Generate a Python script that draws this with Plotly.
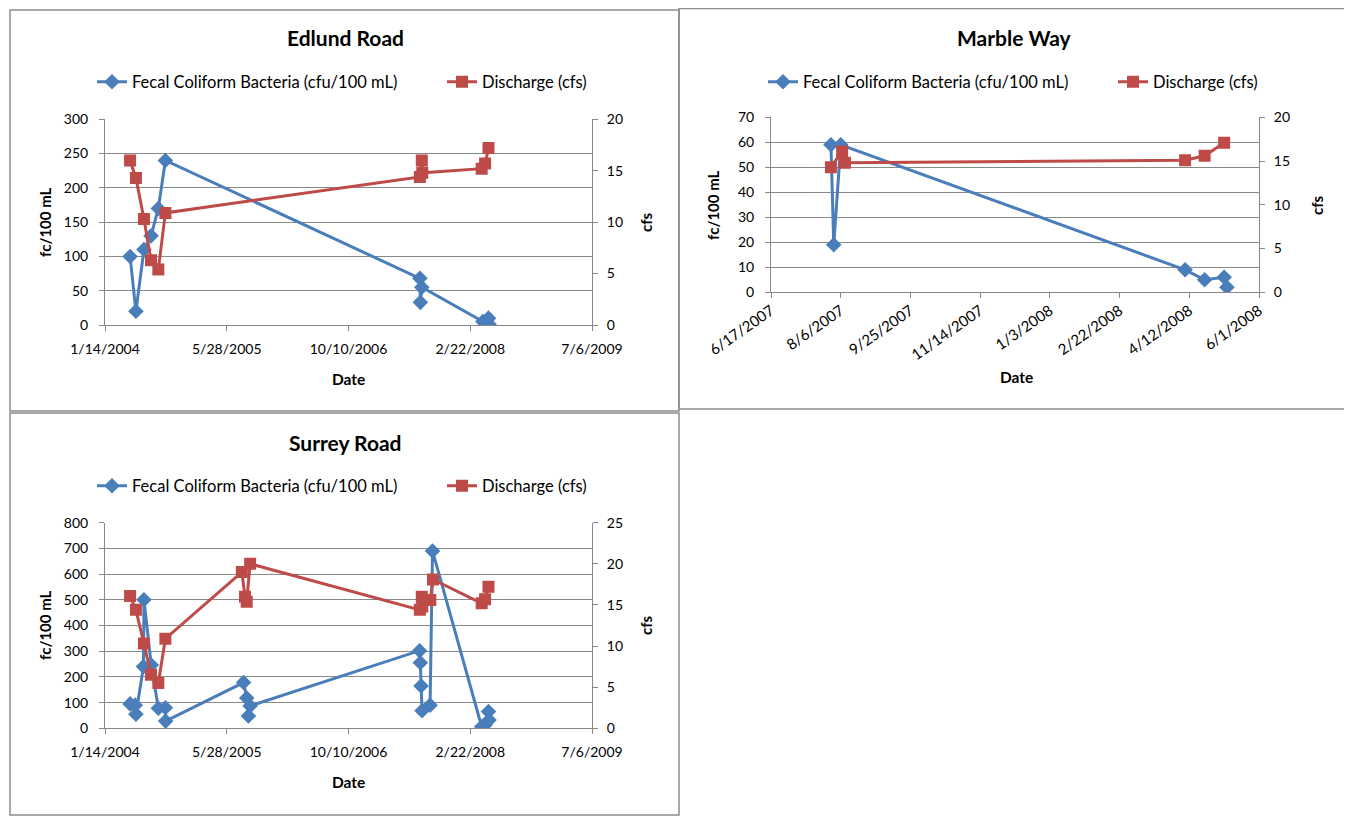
import plotly.graph_objects as go

# ---------------- data ----------------
# Edlund Road
ed_fc_dates = ["2004-04-26", "2004-05-20", "2004-06-22", "2004-07-21", "2004-08-20", "2004-09-18",
               "2007-07-30", "2007-08-01", "2007-08-07", "2008-04-14", "2008-05-07", "2008-05-09"]
ed_fc = [100, 20, 110, 130, 170, 240, 68, 33, 55, 5, 10, 1]
ed_q_dates = ["2004-04-26", "2004-05-20", "2004-06-22", "2004-07-21", "2004-08-20", "2004-09-18",
              "2007-07-30", "2007-08-07", "2007-08-09", "2008-04-09", "2008-04-23", "2008-05-07"]
ed_q = [16.0, 14.3, 10.3, 6.3, 5.4, 10.9, 14.4, 16.0, 14.8, 15.2, 15.7, 17.2]

# Marble Way
mw_fc_dates = ["2007-07-30", "2007-08-01", "2007-08-06", "2008-04-09", "2008-04-23", "2008-05-07", "2008-05-09"]
mw_fc = [59, 19, 59, 9, 5, 6, 2]
mw_q_dates = ["2007-07-30", "2007-08-07", "2007-08-09", "2008-04-09", "2008-04-23", "2008-05-07"]
mw_q = [14.3, 16.1, 14.8, 15.1, 15.6, 17.1]

# Surrey Road
sr_fc_dates = ["2004-04-26", "2004-05-17", "2004-05-20", "2004-06-20", "2004-06-22", "2004-07-22",
               "2004-08-20", "2004-09-18", "2004-09-19",
               "2005-08-05", "2005-08-18", "2005-08-25", "2005-09-01",
               "2007-07-29", "2007-08-01", "2007-08-04", "2007-08-08", "2007-09-10", "2007-09-20",
               "2008-04-09", "2008-04-23", "2008-05-07", "2008-05-09"]
sr_fc = [95, 90, 55, 240, 500, 246, 78, 80, 28,
         178, 118, 48, 87,
         302, 255, 165, 68, 90, 690,
         6, 13, 65, 32]
sr_q_dates = ["2004-04-26", "2004-05-20", "2004-06-22", "2004-07-21", "2004-08-20", "2004-09-18",
              "2005-07-29", "2005-08-11", "2005-08-18", "2005-09-01",
              "2007-07-30", "2007-08-07", "2007-08-09", "2007-09-11", "2007-09-22",
              "2008-04-09", "2008-04-23", "2008-05-07"]
sr_q = [16.1, 14.4, 10.3, 6.5, 5.5, 10.9,
        19.0, 16.0, 15.4, 20.0,
        14.4, 16.0, 14.8, 15.6, 18.1,
        15.2, 15.7, 17.2]

# axis ticks
wide_tick_dates = ["2004-01-14", "2005-05-28", "2006-10-10", "2008-02-22", "2009-07-06"]
wide_tick_text = ["1/14/2004", "5/28/2005", "10/10/2006", "2/22/2008", "7/6/2009"]
mw_tick_dates = ["2007-06-17", "2007-08-06", "2007-09-25", "2007-11-14", "2008-01-03",
                 "2008-02-22", "2008-04-12", "2008-06-01"]
mw_tick_text = ["6/17/2007", "8/6/2007", "9/25/2007", "11/14/2007", "1/3/2008",
                "2/22/2008", "4/12/2008", "6/1/2008"]

FC_NAME = "Fecal Coliform Bacteria (cfu/100 mL)"
Q_NAME = "Discharge (cfs)"

# ---------------- style ----------------
OFF = 8                      # page body margin
W, H = 1352 - OFF, 817 - OFF
BLUE = "#4A7EBB"
RED = "#BE4B48"
GRID = "#888888"
FONT = "Lato"


def px(x):
    return (x - OFF) / W


def py(y):
    return 1 - (y - OFF) / H


fig = go.Figure()

panels = [
    (ed_fc_dates, ed_fc, ed_q_dates, ed_q, "x", "y", "y2", "legend"),
    (mw_fc_dates, mw_fc, mw_q_dates, mw_q, "x2", "y3", "y4", "legend2"),
    (sr_fc_dates, sr_fc, sr_q_dates, sr_q, "x3", "y5", "y6", "legend3"),
]

for fcd, fc, qd, q, xa, yl, yr, lg in panels:
    fig.add_trace(go.Scatter(
        x=fcd, y=fc, name=FC_NAME, mode="lines+markers", xaxis=xa, yaxis=yl, legend=lg,
        legendwidth=305,
        line=dict(color=BLUE, width=3),
        marker=dict(symbol="diamond", size=12, color=BLUE)))
    fig.add_trace(go.Scatter(
        x=qd, y=q, name=Q_NAME, mode="lines+markers", xaxis=xa, yaxis=yr, legend=lg,
        line=dict(color=RED, width=3),
        marker=dict(symbol="square", size=12, color=RED)))

tickfont = dict(family=FONT, size=14, color="black")


def xaxis(dom, rng, tv, tt, anchor, angle=0, standoff=6, size=14):
    return dict(domain=dom, anchor=anchor, type="date", range=rng,
                tickmode="array", tickvals=tv, ticktext=tt, tickangle=angle,
                showgrid=False, zeroline=False, showline=True, linecolor=GRID, linewidth=1,
                ticks="outside", ticklen=5, tickcolor=GRID,
                tickfont=dict(family=FONT, size=size, color="black"),
                ticklabelstandoff=standoff, automargin=False)


def yleft(dom, rng, dt, anchor):
    return dict(domain=dom, anchor=anchor, range=rng, dtick=dt, tick0=0,
                showgrid=True, gridcolor=GRID, gridwidth=1, zeroline=False,
                showline=True, linecolor=GRID, linewidth=1,
                ticks="outside", ticklen=5, tickcolor=GRID, tickfont=tickfont,
                ticklabelstandoff=8, automargin=False)


def yright(over, rng, dt, anchor):
    return dict(overlaying=over, anchor=anchor, side="right", range=rng, dtick=dt, tick0=0,
                showgrid=False, zeroline=False,
                showline=True, linecolor=GRID, linewidth=1,
                ticks="outside", ticklen=5, tickcolor=GRID, tickfont=tickfont,
                ticklabelstandoff=6, automargin=False)


# plot areas (pixels in the screenshot)
ed_x = [px(105), px(592)]
ed_y = [py(325), py(119.3)]
mw_x = [px(771), px(1259)]
mw_y = [py(292.3), py(117.3)]
sr_x = [px(105), px(592)]
sr_y = [py(728.3), py(522.7)]

wide_range = ["2004-01-14", "2009-07-06"]
mw_range = ["2007-06-17", "2008-06-01"]

legend_common = dict(orientation="h", xanchor="left", yanchor="middle",
                     font=dict(family=FONT, size=16.5, color="black"),
                     bgcolor="rgba(0,0,0,0)", borderwidth=0, itemclick=False)

fig.update_layout(
    width=W, height=H, autosize=False,
    margin=dict(l=0, r=0, t=0, b=0, autoexpand=False),
    paper_bgcolor="white", plot_bgcolor="white",
    font=dict(family=FONT, size=14, color="black"),
    showlegend=True,
    xaxis=xaxis(ed_x, wide_range, wide_tick_dates, wide_tick_text, "y"),
    yaxis=yleft(ed_y, [0, 300], 50, "x"),
    yaxis2=yright("y", [0, 20], 5, "x"),
    xaxis2=xaxis(mw_x, mw_range, mw_tick_dates, mw_tick_text, "y3", angle=-35, standoff=-2, size=15),
    yaxis3=yleft(mw_y, [0, 70], 10, "x2"),
    yaxis4=yright("y3", [0, 20], 5, "x2"),
    xaxis3=xaxis(sr_x, wide_range, wide_tick_dates, wide_tick_text, "y5"),
    yaxis5=yleft(sr_y, [0, 800], 100, "x3"),
    yaxis6=yright("y5", [0, 25], 5, "x3"),
    legend=dict(legend_common, x=px(92), y=py(82)),
    legend2=dict(legend_common, x=px(763), y=py(82)),
    legend3=dict(legend_common, x=px(92), y=py(486)),
)

# titles and axis titles
ann = []


def text(x, y, t, size, bold=True, angle=0):
    ann.append(dict(x=px(x), y=py(y), xref="paper", yref="paper", text=("<b>%s</b>" % t) if bold else t,
                    showarrow=False, textangle=angle, xanchor="center", yanchor="middle",
                    font=dict(family=FONT, size=size, color="black")))


text(345, 38, "Edlund Road", 21)
text(1014, 38, "Marble Way", 21)
text(345, 442, "Surrey Road", 21)

text(348, 379, "Date", 15.5)
text(1016, 377, "Date", 15.5)
text(348, 782, "Date", 15.5)

text(45, 222, "fc/100 mL", 15, angle=-90)
text(713, 205, "fc/100 mL", 15, angle=-90)
text(45, 625, "fc/100 mL", 15, angle=-90)

text(646, 222, "cfs", 15, angle=-90)
text(1317, 205, "cfs", 15, angle=-90)
text(646, 625, "cfs", 15, angle=-90)

fig.update_layout(annotations=ann)

# frames
shapes = []


def rect(x0, y0, x1, y1, color, w):
    shapes.append(dict(type="rect", xref="paper", yref="paper",
                       x0=px(x0), x1=px(x1), y0=py(y1), y1=py(y0),
                       line=dict(color=color, width=w), fillcolor="rgba(0,0,0,0)", layer="above"))


rect(10, 10, 679, 411, "#8c8c8c", 1.5)
rect(679, 8.5, 1350, 409, "#8c8c8c", 1.5)
rect(10, 413, 679, 815, "#8c8c8c", 1.5)

fig.update_layout(shapes=shapes)

fig.write_html("out.html")
